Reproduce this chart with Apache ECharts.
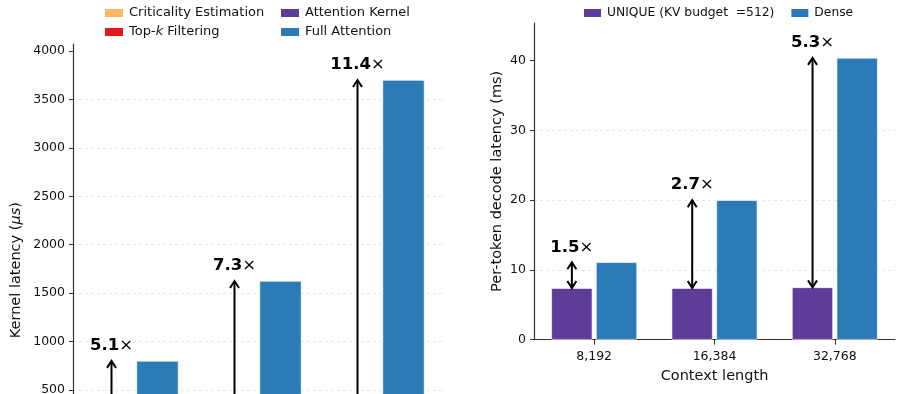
<!DOCTYPE html>
<html>
<head>
<meta charset="utf-8">
<script src="https://cdn.jsdelivr.net/npm/echarts@6/dist/echarts.min.js"></script>
<style>
  html, body { margin: 0; padding: 0; background: #fff; overflow: hidden; }
  /* taller than the window: the left panel runs off the bottom like the reference crop */
  #main { width: 901px; height: 470px; }
</style>
</head>
<body>
<div id="main"></div>
<script>
// data
const contexts = ["8,192", "16,384", "32,768"];
// left panel: kernel latency (us); stacked parts are below the visible crop, estimated
const critEst = [30, 55, 100];
const topkFilter = [25, 35, 50];
const attnKernel = [102, 133, 175];
const fullAttn = [800, 1625, 3700];
const kernelSpeedup = ["5.1", "7.3", "11.4"];
const kernelTicks = [0, 500, 1000, 1500, 2000, 2500, 3000, 3500, 4000];
// right panel: per-token decode latency (ms)
const uniqueDecode = [7.4, 7.4, 7.5];
const denseDecode = [11.1, 20.0, 40.4];
const decodeSpeedup = ["1.5", "2.7", "5.3"];
const decodeTicks = [0, 10, 20, 30, 40];

const FONT = "DejaVu Sans";
const C_CRIT = "#fdb863", C_TOPK = "#e31a1c", C_ATTN = "#5e3c99", C_FULL = "#2c7bb6";
const UNIQUE_NAME = "UNIQUE (KV budget  =512)";

const chart = echarts.init(document.getElementById("main"), null, { renderer: "canvas" });

const uniqueTotal = critEst.map((v, i) => v + topkFilter[i] + attnKernel[i]);

function arrowItem(offset, doubleHead, labels) {
  return function (params, api) {
    const c = api.value(0);
    const a = api.coord([c, api.value(1)]);
    const b = api.coord([c, api.value(2)]);
    const x = a[0] + offset;
    const top = Math.min(a[1], b[1]);
    const bot = Math.max(a[1], b[1]);
    const hw = 4.5, hl = 7;
    const st = { stroke: "#000", lineWidth: 2, fill: null };
    const children = [
      { type: "line", shape: { x1: x, y1: doubleHead ? bot - 0.5 : bot, x2: x, y2: top + 0.5 }, style: st },
      { type: "polyline", shape: { points: [[x - hw, top + hl], [x, top], [x + hw, top + hl]] }, style: st }
    ];
    if (doubleHead) {
      children.push({ type: "polyline", shape: { points: [[x - hw, bot - hl], [x, bot], [x + hw, bot - hl]] }, style: st });
    }
    children.push({
      type: "text",
      x: x,
      y: top - 15,
      style: {
        text: "{b|" + labels[params.dataIndex] + "}{n|×}",
        align: "center",
        verticalAlign: "middle",
        fill: "#000",
        rich: {
          b: { fontFamily: FONT, fontWeight: "bold", fontSize: 16.5, fill: "#000" },
          n: { fontFamily: FONT, fontSize: 16.5, fill: "#000" }
        }
      }
    });
    return { type: "group", children: children };
  };
}

const axisLineStyle = { show: true, lineStyle: { color: "#333", width: 1.2 } };
const tickStyle = { show: true, length: 4, lineStyle: { color: "#333", width: 1 } };
const gridLine = { show: true, showMinLine: false, showMaxLine: false, lineStyle: { color: "#e3e3e3", width: 0.8, type: [3, 3] } };
const labelStyle = { fontFamily: FONT, fontSize: 12.5, color: "#111", formatter: (v) => String(v) };

chart.setOption({
  backgroundColor: "#fff",
  animation: false,
  textStyle: { fontFamily: FONT },
  legend: [
    {
      orient: "vertical", left: 103, top: 6, padding: 0, itemWidth: 20, itemHeight: 10, itemGap: 5,
      icon: "rect", data: ["Criticality Estimation", "Top-k Filtering"],
      formatter: function (name) { return name === "Top-k Filtering" ? "Top-{i|k} Filtering" : name; },
      textStyle: { fontFamily: FONT, fontSize: 13, color: "#111", lineHeight: 14,
        rich: { i: { fontFamily: FONT, fontSize: 13, fontStyle: "italic", color: "#111" } } }
    },
    {
      orient: "vertical", left: 279, top: 6, padding: 0, itemWidth: 20, itemHeight: 10, itemGap: 5,
      icon: "rect", data: ["Attention Kernel", "Full Attention"],
      textStyle: { fontFamily: FONT, fontSize: 13, color: "#111", lineHeight: 14 }
    },
    {
      orient: "horizontal", left: 582, top: 6, padding: 0, itemWidth: 19, itemHeight: 10, itemGap: 15,
      icon: "rect", data: [UNIQUE_NAME, "Dense"],
      textStyle: { fontFamily: FONT, fontSize: 12.3, color: "#111", lineHeight: 14 }
    }
  ],
  grid: [
    { left: 73, top: 44, width: 369, height: 394.4 },
    { left: 534, top: 23, width: 361, height: 316.7 }
  ],
  xAxis: [
    {
      type: "category", gridIndex: 0, data: contexts,
      axisLine: axisLineStyle, axisTick: { show: true, alignWithLabel: true, length: 4, lineStyle: { color: "#333" } },
      axisLabel: { fontFamily: FONT, fontSize: 12.5, color: "#111", margin: 11 }, splitLine: { show: false }
    },
    {
      type: "category", gridIndex: 1, data: contexts,
      name: "Context length", nameLocation: "middle", nameGap: 27,
      nameTextStyle: { fontFamily: FONT, fontSize: 14.5, color: "#111" },
      axisLine: axisLineStyle, axisTick: { show: true, alignWithLabel: true, length: 5, lineStyle: { color: "#333" } },
      axisLabel: { fontFamily: FONT, fontSize: 12.5, color: "#111", margin: 11 }, splitLine: { show: false }
    }
  ],
  yAxis: [
    {
      type: "value", gridIndex: 0, min: 0, max: 4072, interval: 500,
      name: "Kernel latency ({i|μs})", nameLocation: "middle", nameGap: 49,
      nameTextStyle: { fontFamily: FONT, fontSize: 14.5, color: "#111", padding: [0, 58, 0, 0],
        rich: { i: { fontFamily: FONT, fontSize: 14.5, fontStyle: "italic", color: "#111" } } },
      axisLine: axisLineStyle,
      axisTick: Object.assign({ customValues: kernelTicks }, tickStyle),
      axisLabel: Object.assign({ customValues: kernelTicks, margin: 8 }, labelStyle),
      splitLine: gridLine
    },
    {
      type: "value", gridIndex: 1, min: 0, max: 45.4, interval: 10,
      name: "Per-token decode latency (ms)", nameLocation: "middle", nameGap: 29,
      nameTextStyle: { fontFamily: FONT, fontSize: 14.5, color: "#111" },
      axisLine: axisLineStyle,
      axisTick: Object.assign({ customValues: decodeTicks }, tickStyle),
      axisLabel: Object.assign({ customValues: decodeTicks, margin: 8 }, labelStyle),
      splitLine: gridLine
    }
  ],
  series: [
    { name: "Criticality Estimation", type: "bar", xAxisIndex: 0, yAxisIndex: 0, stack: "unique",
      data: critEst, barWidth: 42, barGap: "9.5%", itemStyle: { color: C_CRIT, borderColor: "#fff", borderWidth: 0.6 } },
    { name: "Top-k Filtering", type: "bar", xAxisIndex: 0, yAxisIndex: 0, stack: "unique",
      data: topkFilter, barWidth: 42, barGap: "9.5%", itemStyle: { color: C_TOPK, borderColor: "#fff", borderWidth: 0.6 } },
    { name: "Attention Kernel", type: "bar", xAxisIndex: 0, yAxisIndex: 0, stack: "unique",
      data: attnKernel, barWidth: 42, barGap: "9.5%", itemStyle: { color: C_ATTN, borderColor: "#fff", borderWidth: 0.6 } },
    { name: "Full Attention", type: "bar", xAxisIndex: 0, yAxisIndex: 0,
      data: fullAttn, barWidth: 42, barGap: "9.5%", itemStyle: { color: C_FULL, borderColor: "#fff", borderWidth: 0.6 } },
    { type: "custom", xAxisIndex: 0, yAxisIndex: 0, z: 10, silent: true,
      renderItem: arrowItem(-23, false, kernelSpeedup),
      encode: { x: 0, y: [1, 2] },
      data: contexts.map((c, i) => [i, uniqueTotal[i], fullAttn[i]]) },

    { name: UNIQUE_NAME, type: "bar", xAxisIndex: 1, yAxisIndex: 1,
      data: uniqueDecode, barWidth: 41, barGap: "9%", itemStyle: { color: C_ATTN, borderColor: "#fff", borderWidth: 0.6 } },
    { name: "Dense", type: "bar", xAxisIndex: 1, yAxisIndex: 1,
      data: denseDecode, barWidth: 41, barGap: "9%", itemStyle: { color: C_FULL, borderColor: "#fff", borderWidth: 0.6 } },
    { type: "custom", xAxisIndex: 1, yAxisIndex: 1, z: 10, silent: true,
      renderItem: arrowItem(-22.3, true, decodeSpeedup),
      encode: { x: 0, y: [1, 2] },
      data: contexts.map((c, i) => [i, uniqueDecode[i], denseDecode[i]]) }
  ]
});
</script>
</body>
</html>
